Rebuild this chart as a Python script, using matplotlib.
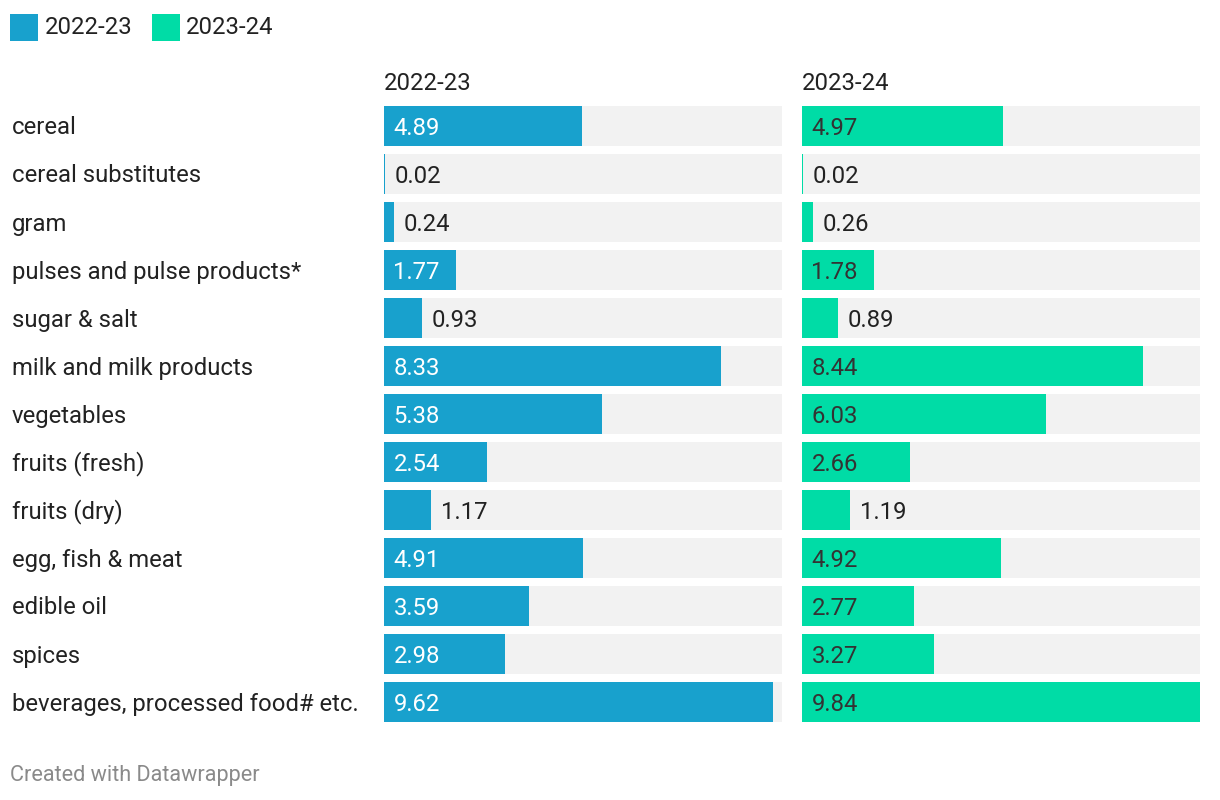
import matplotlib
matplotlib.use("Agg")
import matplotlib.pyplot as plt
from matplotlib.patches import Rectangle

plt.rcParams['font.family'] = ['Roboto', 'DejaVu Sans']

categories = ["cereal", "cereal substitutes", "gram", "pulses and pulse products*",
              "sugar & salt", "milk and milk products", "vegetables", "fruits (fresh)",
              "fruits (dry)", "egg, fish & meat", "edible oil", "spices",
              "beverages, processed food# etc."]
series_names = ["2022-23", "2023-24"]
values_2022 = [4.89, 0.02, 0.24, 1.77, 0.93, 8.33, 5.38, 2.54, 1.17, 4.91, 3.59, 2.98, 9.62]
values_2023 = [4.97, 0.02, 0.26, 1.78, 0.89, 8.44, 6.03, 2.66, 1.19, 4.92, 2.77, 3.27, 9.84]
colors = ["#18a1cd", "#00dca6"]
label_inside_colors = ["#ffffff", "#333333"]

W, H = 1220, 800
fig = plt.figure(figsize=(W / 100, H / 100), dpi=100)
fig.patch.set_facecolor("white")

xmax = max(values_2022 + values_2023)
n = len(categories)
row_top, row_bot = 102, 726  # px
panels = [(384, 782), (802, 1200)]
fs = 17.2
txt_color = "#222222"
dy = -1.5  # points, shift text down slightly

for (x0, x1), name, vals, col, incol in zip(panels, series_names,
                                           [values_2022, values_2023], colors, label_inside_colors):
    ax = fig.add_axes([x0 / W, 1 - row_bot / H, (x1 - x0) / W, (row_bot - row_top) / H])
    ax.set_xlim(0, xmax)
    ax.set_ylim(n - 0.5, -0.5)
    ax.axis("off")
    ypos = list(range(n))
    ax.barh(ypos, [xmax] * n, height=40 / 48, color="#f2f2f2", linewidth=0)
    ax.barh(ypos, vals, height=40 / 48, color=col, linewidth=0)
    px_per_unit = (x1 - x0) / xmax
    for y, v in zip(ypos, vals):
        if v * px_per_unit > 60:
            ax.annotate(f"{v:.2f}", (0, y), xytext=(6.8, dy), textcoords="offset points",
                        va="center", ha="left", color=incol, fontsize=fs)
        else:
            ax.annotate(f"{v:.2f}", (v, y), xytext=(7.0, dy), textcoords="offset points",
                        va="center", ha="left", color=txt_color, fontsize=fs)
    fig.text(x0 / W, 1 - 83.5 / H, name, ha="left", va="center", fontsize=fs, color=txt_color)

# category labels
for i, c in enumerate(categories):
    yc = row_top + 48 * i + 24 + 2
    fig.text(12 / W, 1 - yc / H, c, ha="left", va="center", fontsize=fs, color=txt_color)

# legend
for (sx, tx), name, col in zip([(10, 45), (152, 186)], series_names, colors):
    fig.add_artist(Rectangle((sx / W, 1 - 41 / H), 28 / W, 27 / H, transform=fig.transFigure,
                             color=col, linewidth=0))
    fig.text(tx / W, 1 - 28 / H, name, ha="left", va="center", fontsize=fs, color=txt_color)

fig.text(10 / W, 1 - 776 / H, "Created with Datawrapper", ha="left", va="center",
         fontsize=15.6, color="#8a8a8a")

fig.savefig("out.png", dpi=100, facecolor="white")
